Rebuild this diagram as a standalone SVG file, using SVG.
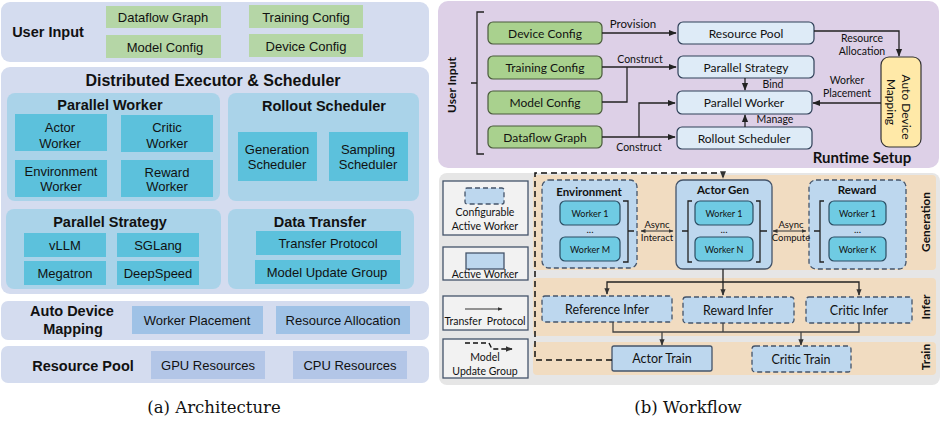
<svg xmlns="http://www.w3.org/2000/svg" width="944" height="426" viewBox="0 0 944 426">
<defs>
<style>
text{dominant-baseline:central;text-anchor:middle;fill:#111}
.a{font-family:"Liberation Sans",Arial,sans-serif;font-size:13px}
.ab{font-family:"Liberation Sans",Arial,sans-serif;font-size:14.5px;font-weight:bold}
.b{font-family:Lato,"Open Sans",sans-serif;font-size:12px}
.bb{font-family:Lato,"Open Sans",sans-serif;font-weight:bold}
.cap{font-family:"DejaVu Serif","Liberation Serif",serif;font-size:16.5px}
.panel{fill:#d4dcef}
.sub{fill:#aad3e9}
.wk{fill:#5cc1dc}
.gr{fill:#b5d6a6}
.adm{fill:#9fc2e6}
.rp{fill:#b3c6e7}
.rg{fill:#a9d18e;stroke:#4a5b3c;stroke-width:1.2}
.rb{fill:#deebf7;stroke:#2f4058;stroke-width:1.2}
.grp{fill:#bdd7ee;stroke:#44546a;stroke-width:1.3}
.dash{stroke-dasharray:5,3}
.w{fill:#6fcbe3;stroke:#2b4d63;stroke-width:1.2}
.leg{fill:#f2f2f2;stroke:#44546a;stroke-width:1.3}
.ln{fill:none;stroke:#222;stroke-width:1.3}
.ln2{fill:none;stroke:#444;stroke-width:1.3}
</style>
<marker id="ah" viewBox="0 0 10 10" refX="9" refY="5" markerWidth="6" markerHeight="6" orient="auto-start-reverse"><path d="M0,1 L10,5 L0,9 z" fill="#222"/></marker>
<marker id="ahs" viewBox="0 0 10 10" refX="9" refY="5" markerWidth="5" markerHeight="5" orient="auto-start-reverse"><path d="M0,1 L10,5 L0,9 z" fill="#333"/></marker>
</defs>

<!-- ===== (a) Architecture ===== -->
<g id="arch-user-input">
<rect x="1" y="2" width="428" height="60" rx="9" class="panel"/>
<text x="48" y="32" class="ab">User Input</text>
<rect x="106" y="6" width="115" height="22" class="gr"/><text x="163" y="17" class="a">Dataflow Graph</text>
<rect x="106" y="35" width="115" height="23" class="gr"/><text x="165" y="47" class="a">Model Config</text>
<rect x="249" y="5" width="114" height="23" class="gr"/><text x="306" y="17" class="a">Training Config</text>
<rect x="249" y="34" width="114" height="23" class="gr"/><text x="306" y="46" class="a">Device Config</text>
</g>

<g id="arch-executor">
<rect x="1" y="67" width="428" height="227" rx="9" class="panel"/>
<text x="213" y="80" class="ab" style="font-size:16px">Distributed Executor &amp; Scheduler</text>
</g>
<g id="arch-parallel-worker">
<rect x="7" y="93" width="213" height="108" rx="8" class="sub"/>
<text x="110" y="105" class="ab">Parallel Worker</text>
<rect x="15" y="114" width="92" height="37" class="wk"/><text x="60" y="127" class="a">Actor</text><text x="60" y="143" class="a">Worker</text>
<rect x="121" y="115" width="92" height="37" class="wk"/><text x="167" y="127" class="a">Critic</text><text x="167" y="143" class="a">Worker</text>
<rect x="15" y="160" width="92" height="37" class="wk"/><text x="61" y="171" class="a">Environment</text><text x="61" y="186" class="a">Worker</text>
<rect x="121" y="160" width="92" height="37" class="wk"/><text x="167" y="172" class="a">Reward</text><text x="167" y="186" class="a">Worker</text>
</g>
<g id="arch-rollout-scheduler">
<rect x="228" y="93" width="191" height="108" rx="8" class="sub"/>
<text x="324" y="106" class="ab">Rollout Scheduler</text>
<rect x="238" y="132" width="79" height="49" class="wk"/><text x="277" y="149" class="a">Generation</text><text x="277" y="164" class="a">Scheduler</text>
<rect x="329" y="132" width="79" height="49" class="wk"/><text x="368" y="149" class="a">Sampling</text><text x="368" y="164" class="a">Scheduler</text>
</g>
<g id="arch-parallel-strategy">
<rect x="6" y="209" width="215" height="80" rx="8" class="sub"/>
<text x="110" y="222" class="ab">Parallel Strategy</text>
<rect x="24" y="233" width="82" height="24" class="wk"/><text x="65" y="245" class="a">vLLM</text>
<rect x="117" y="233" width="82" height="24" class="wk"/><text x="158" y="245" class="a">SGLang</text>
<rect x="24" y="261" width="82" height="24" class="wk"/><text x="65" y="273" class="a">Megatron</text>
<rect x="117" y="261" width="82" height="24" class="wk"/><text x="158" y="273" class="a">DeepSpeed</text>
</g>
<g id="arch-data-transfer">
<rect x="228" y="209" width="186" height="80" rx="8" class="sub"/>
<text x="320" y="222" class="ab">Data Transfer</text>
<rect x="256" y="231" width="145" height="24" class="wk"/><text x="328" y="243" class="a">Transfer Protocol</text>
<rect x="255" y="260" width="145" height="24" class="wk"/><text x="327" y="272" class="a">Model Update Group</text>
</g>
<g id="arch-auto-device-mapping">
<rect x="1" y="301" width="428" height="39" rx="7" class="panel"/>
<text x="72" y="311" class="ab">Auto Device</text><text x="73" y="329" class="ab">Mapping</text>
<rect x="132" y="306" width="131" height="28" class="adm"/><text x="197" y="320" class="a">Worker Placement</text>
<rect x="276" y="306" width="134" height="28" class="adm"/><text x="343" y="320" class="a">Resource Allocation</text>
</g>
<g id="arch-resource-pool">
<rect x="1" y="346" width="428" height="37" rx="7" class="panel"/>
<text x="83" y="366" class="ab">Resource Pool</text>
<rect x="151" y="351" width="114" height="28" class="rp"/><text x="208" y="365" class="a">GPU Resources</text>
<rect x="293" y="351" width="114" height="28" class="rp"/><text x="350" y="365" class="a">CPU Resources</text>
</g>
<text x="214" y="407" class="cap">(a) Architecture</text>

<!-- ===== (b) Runtime Setup ===== -->
<g id="runtime-setup">
<rect x="438" y="1" width="501" height="167" rx="10" fill="#ddd0e7"/>
<text x="862" y="157" class="bb" style="font-size:15px">Runtime Setup</text>
<text transform="translate(451,85) rotate(-90)" class="bb" style="font-size:12px">User Input</text>
<path d="M484,12 H477 V154 H484 M477,83 H471" class="ln" stroke-width="1.5"/>
</g>
<g id="rs-device-config"><rect x="488" y="22" width="114" height="22" rx="5" class="rg"/><text x="545" y="33" class="b">Device Config</text></g>
<g id="rs-training-config"><rect x="488" y="56" width="114" height="23" rx="5" class="rg"/><text x="545" y="67.5" class="b">Training Config</text></g>
<g id="rs-model-config"><rect x="488" y="91" width="114" height="23" rx="5" class="rg"/><text x="545" y="102.5" class="b">Model Config</text></g>
<g id="rs-dataflow-graph"><rect x="488" y="126" width="114" height="22" rx="5" class="rg"/><text x="545" y="137" class="b">Dataflow Graph</text></g>
<g id="rs-resource-pool"><rect x="678" y="22" width="136" height="22" rx="5" class="rb"/><text x="746" y="33" class="b">Resource Pool</text></g>
<g id="rs-parallel-strategy"><rect x="678" y="56" width="136" height="22" rx="5" class="rb"/><text x="746" y="67" class="b">Parallel Strategy</text></g>
<g id="rs-parallel-worker"><rect x="677" y="91" width="135" height="23" rx="5" class="rb"/><text x="744" y="102.5" class="b">Parallel Worker</text></g>
<g id="rs-rollout-scheduler"><rect x="677" y="127" width="135" height="22" rx="5" class="rb"/><text x="744" y="138" class="b">Rollout Scheduler</text></g>
<g id="rs-auto-device-mapping"><rect x="881" y="57" width="40" height="90" rx="8" fill="#ffe9a8" stroke="#333" stroke-width="1.2"/>
<text transform="translate(906,107) rotate(90)" class="b">Auto Device</text>
<text transform="translate(891,102) rotate(90)" class="b">Mapping</text></g>

<g id="rs-connectors">
<path d="M602,33 H676" class="ln" marker-end="url(#ah)"/>
<path d="M814,31 H899 V56" class="ln" marker-end="url(#ah)"/>
<path d="M602,67 H676" class="ln" marker-end="url(#ah)"/>
<path d="M602,102 H627 V67" class="ln"/>
<path d="M602,137 H675" class="ln" marker-end="url(#ah)"/>
<path d="M639,137 V103 H675" class="ln" marker-end="url(#ah)"/>
<path d="M745,78 V90" class="ln" marker-end="url(#ah)"/>
<path d="M745,127 V115" class="ln" marker-end="url(#ah)"/>
<path d="M881,103 H813" class="ln" marker-end="url(#ah)"/>
<text x="633" y="23" class="b" style="font-size:11.5px">Provision</text>
<text x="640" y="59" class="b" style="font-size:10.5px">Construct</text>
<text x="639" y="147" class="b" style="font-size:10.5px">Construct</text>
<text x="862" y="38" class="b" style="font-size:10.5px">Resource</text>
<text x="862" y="51" class="b" style="font-size:10.5px">Allocation</text>
<text x="773" y="84" class="b" style="font-size:10.5px">Bind</text>
<text x="775" y="119" class="b" style="font-size:10.5px">Manage</text>
<text x="847" y="80" class="b" style="font-size:10.5px">Worker</text>
<text x="847" y="93" class="b" style="font-size:10.5px">Placement</text>
</g>

<!-- ===== (b) Workflow ===== -->
<g id="workflow-bg">
<rect x="439" y="173" width="501" height="212" rx="8" fill="#e6e6e6"/>
<rect x="533" y="175" width="403" height="95" rx="4" fill="#f1dcc1"/>
<rect x="533" y="278" width="403" height="58" rx="4" fill="#f1dcc1"/>
<rect x="533" y="342" width="403" height="33" rx="4" fill="#f1dcc1"/>
<text transform="translate(925,222) rotate(-90)" class="bb" style="font-size:12px">Generation</text>
<text transform="translate(925,307) rotate(-90)" class="bb" style="font-size:12px">Infer</text>
<text transform="translate(925,357) rotate(-90)" class="bb" style="font-size:12px">Train</text>
</g>

<g id="legend-configurable">
<rect x="443" y="181" width="85" height="54" class="leg"/>
<rect x="465" y="188" width="39" height="16" rx="2" class="grp dash"/>
<text x="485" y="212" class="b" style="font-size:10.5px">Configurable</text>
<text x="485" y="226" class="b" style="font-size:10.5px">Active Worker</text>
</g>
<g id="legend-active">
<rect x="443" y="247" width="85" height="33" class="leg"/>
<rect x="466" y="253" width="38" height="16" class="grp"/>
<text x="485" y="274" class="b" style="font-size:10.5px">Active Worker</text>
</g>
<g id="legend-transfer">
<rect x="443" y="296" width="85" height="34" class="leg"/>
<path d="M465,309 H502" fill="none" stroke="#333" stroke-width="1" marker-end="url(#ahs)"/>
<text x="485" y="321" class="b" style="font-size:10.5px" xml:space="preserve">Transfer  Protocol</text>
</g>
<g id="legend-model-update">
<rect x="443" y="339" width="85" height="39" class="leg"/>
<path d="M465,343 H489 L492,349 H512" fill="none" stroke="#111" stroke-width="1.4" stroke-dasharray="5,3" marker-end="url(#ahs)"/>
<text x="485" y="357" class="b" style="font-size:10.5px">Model</text>
<text x="485" y="371" class="b" style="font-size:10.5px">Update Group</text>
</g>

<g id="env">
<rect x="542" y="180" width="95" height="88" rx="7" class="grp dash"/>
<text x="589" y="191" class="bb" style="font-size:11.5px">Environment</text>
<rect x="560" y="201" width="60" height="24" rx="5" class="w"/><text x="590" y="213" class="b" style="font-size:9px">Worker 1</text>
<text x="590" y="229" class="b" style="font-size:10px">...</text>
<rect x="560" y="237" width="60" height="24" rx="5" class="w"/><text x="590" y="249" class="b" style="font-size:9px">Worker M</text>
<path d="M623,201 H628 V262 H623 M628,231 H634" class="ln"/>
</g>
<g id="actor-gen">
<rect x="676" y="180" width="96" height="89" rx="7" class="grp"/>
<text x="723" y="189" class="bb" style="font-size:11.5px">Actor Gen</text>
<rect x="695" y="201" width="58" height="24" rx="5" class="w"/><text x="724" y="213" class="b" style="font-size:9px">Worker 1</text>
<text x="724" y="229" class="b" style="font-size:10px">...</text>
<rect x="695" y="237" width="58" height="24" rx="5" class="w"/><text x="724" y="249" class="b" style="font-size:9px">Worker N</text>
<path d="M692,201 H688 V262 H692 M688,231 H682 M756,201 H760 V262 H756 M760,231 H767" class="ln"/>
</g>
<g id="reward">
<rect x="809" y="180" width="97" height="89" rx="7" class="grp dash"/>
<text x="857" y="189" class="bb" style="font-size:11.5px">Reward</text>
<rect x="829" y="201" width="57" height="24" rx="5" class="w"/><text x="857.5" y="213" class="b" style="font-size:9px">Worker 1</text>
<text x="857.5" y="229" class="b" style="font-size:10px">...</text>
<rect x="829" y="237" width="57" height="24" rx="5" class="w"/><text x="857.5" y="249" class="b" style="font-size:9px">Worker K</text>
<path d="M824,201 H820 V262 H824 M820,231 H814" class="ln"/>
</g>
<g id="reference-infer"><rect x="542" y="296" width="130" height="26" rx="3" class="grp dash"/><text x="607" y="309" class="b" style="font-size:12.5px">Reference Infer</text></g>
<g id="reward-infer"><rect x="683" y="297" width="111" height="26" rx="3" class="grp dash"/><text x="738" y="310" class="b" style="font-size:12.5px">Reward Infer</text></g>
<g id="critic-infer"><rect x="806" y="297" width="106" height="26" rx="3" class="grp dash"/><text x="859" y="310" class="b" style="font-size:12.5px">Critic Infer</text></g>
<g id="actor-train"><rect x="612" y="346" width="100" height="25" rx="2" class="grp"/><text x="662" y="358.5" class="b" style="font-size:12.5px">Actor Train</text></g>
<g id="critic-train"><rect x="752" y="346" width="99" height="26" rx="3" class="grp dash"/><text x="801" y="359" class="b" style="font-size:12.5px">Critic Train</text></g>

<g id="workflow-connectors">
<path d="M641,231 H673" fill="none" stroke="#333" stroke-width="1" marker-start="url(#ahs)" marker-end="url(#ahs)"/>
<path d="M773,231 H806" fill="none" stroke="#333" stroke-width="1" marker-start="url(#ahs)" marker-end="url(#ahs)"/>
<text x="657" y="224" class="b" style="font-size:9.5px">Async</text>
<text x="657" y="237" class="b" style="font-size:9.5px">Interact</text>
<text x="791" y="224" class="b" style="font-size:9.5px">Async</text>
<text x="791" y="237" class="b" style="font-size:9.5px">Compute</text>
<path d="M723,269 V295" class="ln" marker-end="url(#ahs)"/>
<path d="M607,294 V282 H859 V295" class="ln" marker-start="url(#ahs)" marker-end="url(#ahs)"/>
<path d="M613,322 V332 H859 V323 M723,323 V332" class="ln2"/>
<path d="M662,332 V345" class="ln2" marker-end="url(#ahs)"/>
<path d="M801,332 V345" class="ln2" marker-end="url(#ahs)"/>
<path d="M612,360 H535 V173 H723 V178" fill="none" stroke="#111" stroke-width="1.5" stroke-dasharray="6,4" marker-end="url(#ahs)"/>
</g>
<text x="688" y="407" class="cap">(b) Workflow</text>
</svg>
